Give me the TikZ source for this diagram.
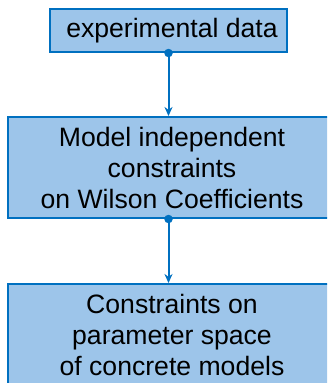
\documentclass[tikz,border=0pt]{standalone}
\usepackage{fontspec}
\setmainfont{Liberation Sans}
\usetikzlibrary{arrows.meta}
\definecolor{boxfill}{RGB}{157,197,234}
\definecolor{boxline}{RGB}{0,112,192}
\tikzset{
  blockbox/.style={draw=boxline, fill=boxfill, line width=2pt, inner sep=0pt, align=center,
    font=\fontsize{26.6}{31}\selectfont},
  flowarrow/.style={draw=boxline, line width=2pt, -{Stealth[length=9pt,width=8pt]}},
  dotmark/.style={circle, fill=boxline, inner sep=0pt, minimum size=8.5pt}
}
\begin{document}
\begin{tikzpicture}[x=1pt,y=-1pt]
\useasboundingbox (0,0) rectangle (327,383);
\clip (0,0) rectangle (327,383);
\node[blockbox, minimum width=237pt, minimum height=43pt] (top) at (168.5,30.5) {\hspace*{7pt}experimental data};
\node[blockbox, minimum width=328pt, minimum height=101pt] (mid) at (172,167.5) {Model independent\\constraints\\on Wilson Coefficients};
\node[blockbox, minimum width=328pt, minimum height=101pt] (bot) at (172,334.5) {Constraints on\\parameter space\\of concrete models};
\draw[flowarrow] (top.south) -- (top.south |- mid.north);
\node[dotmark] (d1) at (top.south) {};
\coordinate (m2) at (top.south |- mid.south);
\draw[flowarrow] (m2) -- (m2 |- bot.north);
\node[dotmark] (d2) at (m2) {};
\end{tikzpicture}
\end{document}
